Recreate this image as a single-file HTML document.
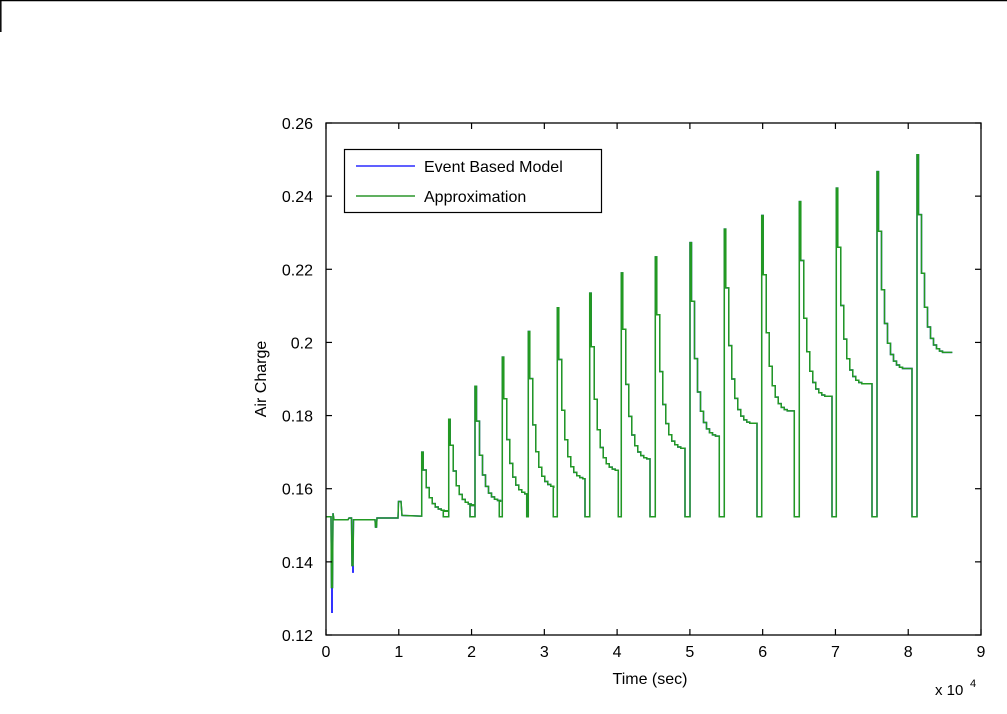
<!DOCTYPE html>
<html><head><style>
body{margin:0;background:#fff;}
svg text{font-family:"Liberation Sans",Arial,sans-serif;font-size:16px;fill:#000;}
</style></head><body>
<svg id="s" width="1007" height="709" xmlns="http://www.w3.org/2000/svg">
<rect x="0" y="0" width="1007" height="709" fill="#fff"/>
<line x1="0" y1="0.5" x2="1007" y2="0.5" stroke="#000" stroke-width="1.5"/>
<line x1="0.8" y1="0" x2="0.8" y2="32" stroke="#000" stroke-width="1.5"/>
<g id="plot"></g>
<rect x="326" y="123" width="655" height="512" fill="none" stroke="#000" stroke-width="1.3"/>
<g id="ticks" stroke="#000" stroke-width="1.2"></g>
<g id="labels"></g>
<text x="650" y="684" text-anchor="middle">Time (sec)</text>
<text x="935" y="695" style="font-size:15px">x 10</text><text x="970" y="687" style="font-size:11px">4</text>
<text transform="translate(266,379) rotate(-90)" text-anchor="middle">Air Charge</text>
<rect x="344.5" y="149.5" width="257" height="63" fill="#fff" stroke="#000" stroke-width="1.2"/>
<line x1="356" y1="166" x2="415" y2="166" stroke="#0000ff" stroke-width="1.3"/>
<line x1="356" y1="196" x2="415" y2="196" stroke="#008000" stroke-width="1.3"/>
<text x="424" y="172">Event Based Model</text>
<text x="424" y="202">Approximation</text>
</svg>
<script>
var NS="http://www.w3.org/2000/svg";
function Y(v){return 123+(0.26-v)*512/0.14;}
function X(t){return 326+t*655/9;}
var tk=document.getElementById('ticks'),lb=document.getElementById('labels');
function ln(a,b,c,d){var l=document.createElementNS(NS,'line');l.setAttribute('x1',a);l.setAttribute('y1',b);l.setAttribute('x2',c);l.setAttribute('y2',d);tk.appendChild(l);}
function tx(x,y,s,anc){var t=document.createElementNS(NS,'text');t.setAttribute('x',x);t.setAttribute('y',y);t.setAttribute('text-anchor',anc);t.textContent=s;lb.appendChild(t);}
for(var i=0;i<=9;i++){var x=X(i);ln(x,635,x,629);ln(x,123,x,129);tx(x,657,String(i),'middle');}
var yl=['0.12','0.14','0.16','0.18','0.2','0.22','0.24','0.26'];
for(var j=0;j<8;j++){var v=0.12+j*0.02,y=Y(v);ln(326,y,332,y);ln(981,y,975,y);tx(313,y+6,yl[j],'end');}
var B=516.7;
var pts=[[326,B],[331,B],[331.5,Y(0.133)],[332.5,Y(0.133)],[333,Y(0.1533)],[334,Y(0.1515)],[348,Y(0.1515)],[349,Y(0.152)],[351.5,Y(0.152)],[352,Y(0.139)],[353,Y(0.139)],[353.5,Y(0.1515)],[375,Y(0.1515)],[375.5,Y(0.1495)],[376.5,Y(0.1495)],[377,Y(0.152)],[398,Y(0.152)],[398.5,Y(0.1565)],[401,Y(0.1565)],[402,Y(0.1527)],[420,Y(0.1525)]];
var cyc=[[420,421.7,0.170,0.1537],[443.3,448.7,0.179,0.1552],[470,475,0.188,0.1563],[499.3,502.3,0.196,0.158],[526.7,528.3,0.203,0.160],[553.3,557.3,0.2095,0.1623],[585,589.7,0.2135,0.1646],[618.3,621.3,0.219,0.1677],[650,655.3,0.2234,0.1706],[685,690,0.2273,0.1739],[719.3,724.3,0.231,0.1774],[757,761.7,0.2347,0.1808],[794.3,799.3,0.2385,0.1848],[832,836.3,0.2422,0.1882],[872,877,0.2467,0.1924],[912,917,0.2513,0.1968]];
for(var k=0;k<cyc.length;k++){var c=cyc[k];
 if(k>0){pts.push([c[0],pts[pts.length-1][1]]);pts.push([c[0],B]);pts.push([c[1],B]);}
 else{pts.push([c[1],pts[pts.length-1][1]]);}
 pts.push([c[1],Y(c[2])]);pts.push([c[1]+1.5,Y(c[2])]);
 var a=0.7*(c[2]-c[3]);
 for(var s=0;s<=24;s+=3){var v=c[3]+a*Math.exp(-s/5.5);var x=c[1]+1.5+s;pts.push([x,Y(v)]);if(s<24)pts.push([x+3,Y(v)]);}
}
pts.push([952.3,pts[pts.length-1][1]]);
var d='M'+pts.map(function(p){return p[0].toFixed(1)+','+p[1].toFixed(1)}).join('L');
var g=document.getElementById('plot');
var pb=document.createElementNS(NS,'path');pb.setAttribute('d',d);pb.setAttribute('fill','none');pb.setAttribute('stroke','#0000ff');pb.setAttribute('stroke-width','1.4');g.appendChild(pb);
var bl=document.createElementNS(NS,'path');bl.setAttribute('d','M332,'+Y(0.133)+'L332,'+Y(0.126)+' M353,'+Y(0.139)+'L353,'+Y(0.137));bl.setAttribute('stroke','#0000ff');bl.setAttribute('stroke-width','1.6');g.appendChild(bl);
var pg=document.createElementNS(NS,'path');pg.setAttribute('d',d);pg.setAttribute('fill','none');pg.setAttribute('stroke','#229922');pg.setAttribute('stroke-width','1.5');g.appendChild(pg);
</script>
</body></html>
